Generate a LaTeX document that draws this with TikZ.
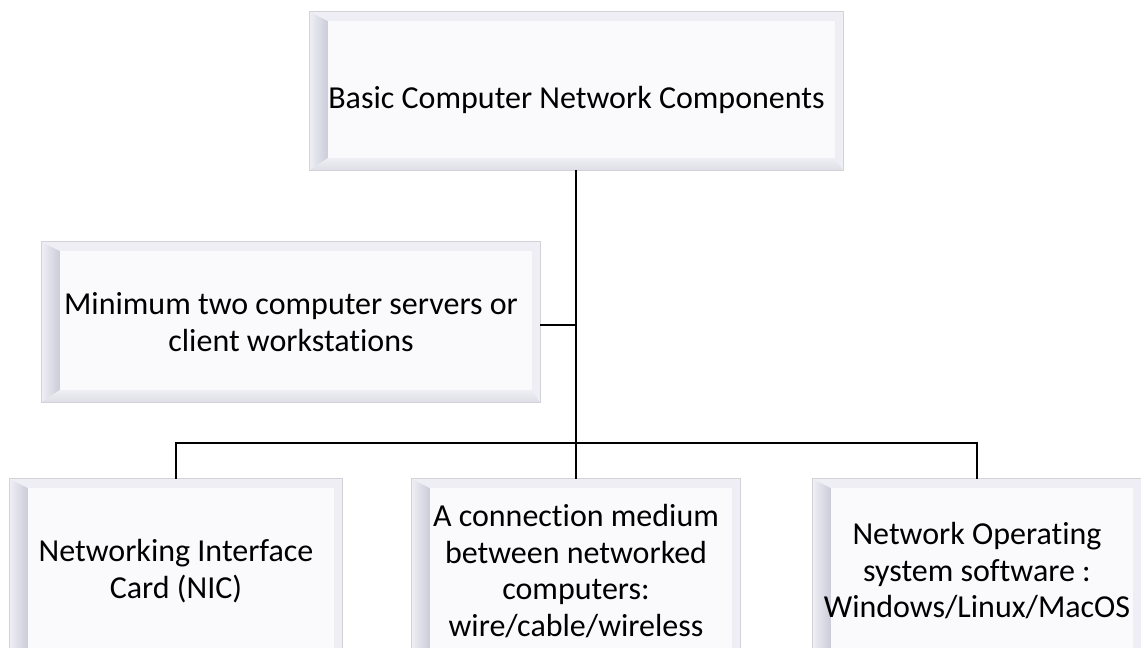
\documentclass[tikz,border=0pt]{standalone}
\usepackage{fontspec}
\setmainfont{Carlito}[Ligatures={NoCommon,NoRare}]
\usetikzlibrary{calc,backgrounds}
\definecolor{face}{RGB}{250,250,253}
\definecolor{bvdark}{RGB}{204,204,218}
\definecolor{bvmid}{RGB}{222,222,230}
\definecolor{bvlight}{RGB}{238,238,244}
\definecolor{edgecol}{RGB}{210,210,216}
\tikzset{
  boxnode/.style={draw=none, rectangle, align=center, font=\fontsize{32}{36.5}\selectfont, inner sep=0pt},
  link/.style={line width=2.2pt, black}
}
\newcommand\bevelbox[1]{%
  \fill[face] (#1.north west) rectangle (#1.south east);
  \shade[left color=bvlight, right color=bvdark]
    (#1.north west) -- ($(#1.north west)+(18,9)$) -- ($(#1.south west)+(18,-12)$) -- (#1.south west) -- cycle;
  \fill[bvlight]
    (#1.north west) -- (#1.north east) -- ($(#1.north east)+(-8,9)$) -- ($(#1.north west)+(18,9)$) -- cycle;
  \shade[top color=bvlight, bottom color=bvmid]
    ($(#1.south west)+(18,-12)$) -- ($(#1.south east)+(-8,-12)$) -- (#1.south east) -- (#1.south west) -- cycle;
  \fill[bvlight]
    (#1.north east) -- (#1.south east) -- ($(#1.south east)+(-8,-12)$) -- ($(#1.north east)+(-8,9)$) -- cycle;
  \draw[edgecol, line width=0.8pt] (#1.north west) rectangle (#1.south east);
}
\begin{document}
\begin{tikzpicture}[x=1pt,y=-1pt]
\useasboundingbox (0,0) rectangle (1141,648);
\clip (0,0) rectangle (1141,648);
\node[boxnode, minimum width=533pt, minimum height=158pt] (top) at (576.5,91) {\raisebox{-7pt}[20pt][0pt]{Basic Computer Network Components}};
\node[boxnode, minimum width=498pt, minimum height=160pt] (clients) at (291,322) {Minimum two computer servers or\\client workstations};
\node[boxnode, minimum width=332pt, minimum height=184pt] (nic) at (176,571) {Networking Interface\\Card (NIC)};
\node[boxnode, minimum width=328pt, minimum height=184pt] (medium) at (576,571) {A connection medium\\between networked\\computers:\\wire/cable/wireless};
\node[boxnode, minimum width=328pt, minimum height=184pt] (nos) at (977,571) {Network Operating\\system software :\\Windows/Linux/MacOS};
\coordinate (j1) at (576,325);
\coordinate (j2) at (576,443);
\begin{scope}[on background layer]
  \bevelbox{top}
  \bevelbox{clients}
  \bevelbox{nic}
  \bevelbox{medium}
  \bevelbox{nos}
\end{scope}
\draw[link] (top.south -| j1) -- (j2);
\draw[link] (clients.east |- j1) -- (j1);
\draw[link] (nic.north) |- (j2) -| (nos.north);
\draw[link] (j2) -- (medium.north);
\end{tikzpicture}
\end{document}
